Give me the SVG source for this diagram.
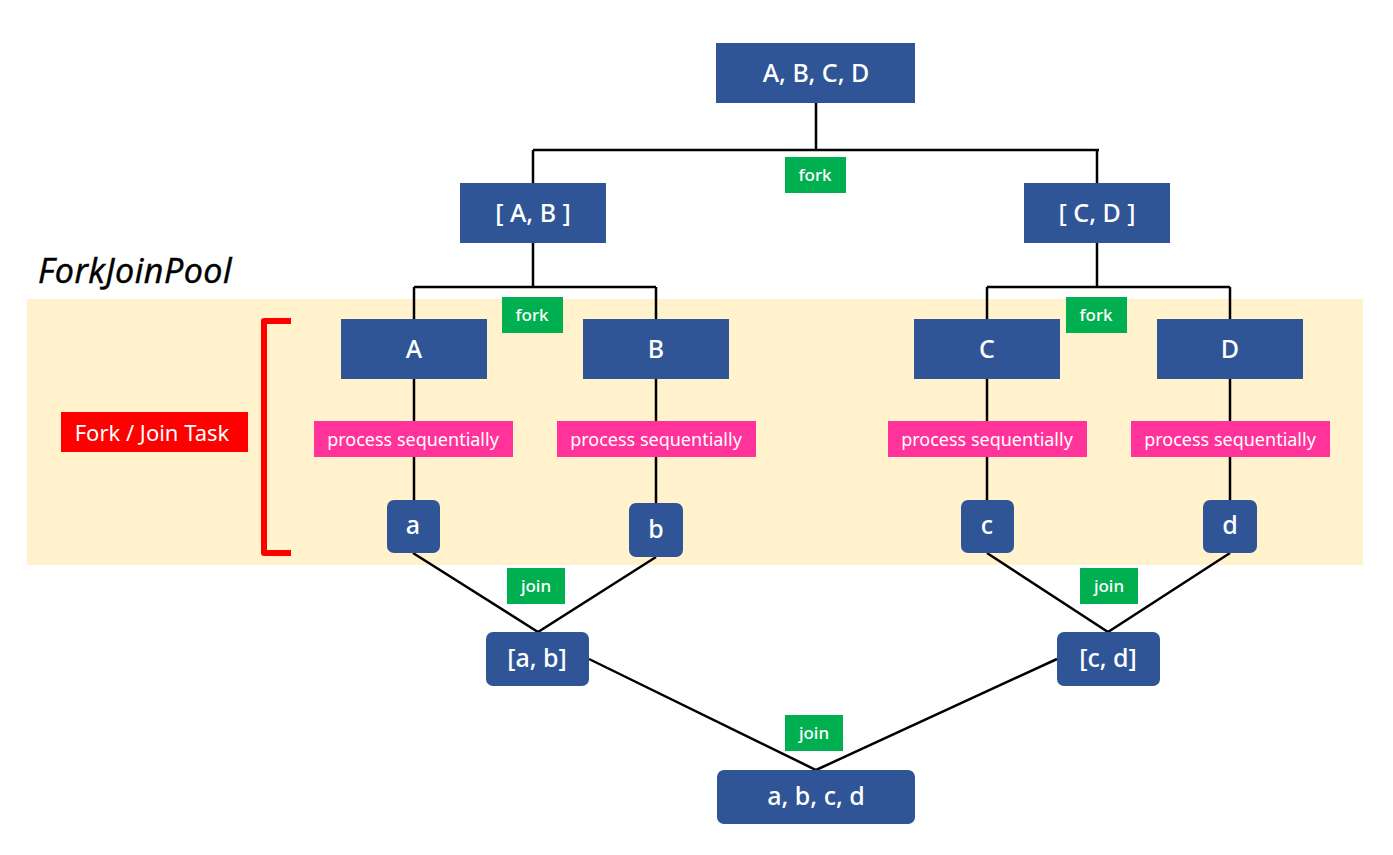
<svg xmlns="http://www.w3.org/2000/svg" width="1393" height="855" viewBox="0 0 1393 855">
<style>
.n{fill:#2F5597}
.t{fill:#fff;font-family:"Noto Sans","Open Sans",sans-serif;text-anchor:middle;dominant-baseline:central}
.big{font-size:25px;font-weight:500}
.g{fill:#00B050}
.p{fill:#FF3399}
.sm{font-size:17px;font-weight:500}
.ps{font-size:18px}
.c{stroke:#000;stroke-width:2.5;fill:none}
</style>
<rect x="0" y="0" width="1393" height="855" fill="#fff"/>
<rect id="pool" x="27" y="299" width="1336" height="266" fill="#FFF2CC"/>
<text x="38" y="283" font-family="'Open Sans','Noto Sans',sans-serif" font-style="italic" font-size="34" fill="#000" stroke="#000" stroke-width="0.5" letter-spacing="0.5">ForkJoinPool</text>
<g id="connectors">
<path class="c" d="M816 103V150M533 150H1099M533 150V183M1097 150V183"/>
<path class="c" d="M533 243V287M414 287H656M414 287V319M656 287V319"/>
<path class="c" d="M1097 243V287M987 287H1230M987 287V319M1230 287V319"/>
<path class="c" d="M414 379V500M656 379V503M987 379V500M1230 379V500"/>
<path class="c" d="M413 553L538 632L656 557"/>
<path class="c" d="M987 553L1108 632L1230 553"/>
<path class="c" d="M589 659L816 770L1057 659"/>
</g>
<g id="bracket"><path d="M291 321H264V553H291" stroke="#FF0000" stroke-width="6" fill="none" stroke-linejoin="round"/></g>
<g id="fjtask"><rect x="61" y="412" width="187" height="40" fill="#FF0000"/><text class="t" x="152" y="432" font-size="22">Fork / Join Task</text></g>
<g id="n-abcd"><rect class="n" x="716" y="43" width="199" height="60"/><text class="t big" x="816" y="72">A, B, C, D</text></g>
<g id="fork1"><rect class="g" x="785" y="157" width="61" height="36"/><text class="t sm" x="815" y="174">fork</text></g>
<g id="n-ab"><rect class="n" x="460" y="183" width="146" height="60"/><text class="t big" x="533" y="212">[ A, B ]</text></g>
<g id="n-cd"><rect class="n" x="1024" y="183" width="146" height="60"/><text class="t big" x="1097" y="212">[ C, D ]</text></g>
<g id="fork2"><rect class="g" x="502" y="297" width="61" height="36"/><text class="t sm" x="532" y="314">fork</text></g>
<g id="fork3"><rect class="g" x="1066" y="297" width="61" height="36"/><text class="t sm" x="1096" y="314">fork</text></g>
<g id="n-A"><rect class="n" x="341" y="319" width="146" height="60"/><text class="t big" x="414" y="348">A</text></g>
<g id="n-B"><rect class="n" x="583" y="319" width="146" height="60"/><text class="t big" x="656" y="348">B</text></g>
<g id="n-C"><rect class="n" x="914" y="319" width="146" height="60"/><text class="t big" x="987" y="348">C</text></g>
<g id="n-D"><rect class="n" x="1157" y="319" width="146" height="60"/><text class="t big" x="1230" y="348">D</text></g>
<g id="ps1"><rect class="p" x="314" y="421" width="199" height="36"/><text class="t ps" x="413" y="439">process sequentially</text></g>
<g id="ps2"><rect class="p" x="557" y="421" width="199" height="36"/><text class="t ps" x="656" y="439">process sequentially</text></g>
<g id="ps3"><rect class="p" x="888" y="421" width="199" height="36"/><text class="t ps" x="987" y="439">process sequentially</text></g>
<g id="ps4"><rect class="p" x="1131" y="421" width="199" height="36"/><text class="t ps" x="1230" y="439">process sequentially</text></g>
<g id="n-a"><rect class="n" x="387" y="500" width="53" height="53" rx="7"/><text class="t big" x="413" y="524">a</text></g>
<g id="n-b"><rect class="n" x="629" y="503" width="54" height="54" rx="7"/><text class="t big" x="656" y="528">b</text></g>
<g id="n-c"><rect class="n" x="961" y="500" width="53" height="53" rx="7"/><text class="t big" x="987" y="524">c</text></g>
<g id="n-d"><rect class="n" x="1203" y="500" width="54" height="53" rx="7"/><text class="t big" x="1230" y="524">d</text></g>
<g id="join1"><rect class="g" x="507" y="568" width="58" height="36"/><text class="t sm" x="536" y="585">join</text></g>
<g id="join2"><rect class="g" x="1080" y="568" width="58" height="36"/><text class="t sm" x="1109" y="585">join</text></g>
<g id="n-ab2"><rect class="n" x="486" y="632" width="103" height="54" rx="7"/><text class="t big" x="537" y="657">[a, b]</text></g>
<g id="n-cd2"><rect class="n" x="1057" y="632" width="103" height="54" rx="7"/><text class="t big" x="1108" y="657">[c, d]</text></g>
<g id="join3"><rect class="g" x="785" y="715" width="58" height="36"/><text class="t sm" x="814" y="732">join</text></g>
<g id="n-final"><rect class="n" x="717" y="770" width="198" height="54" rx="7"/><text class="t big" x="816" y="795">a, b, c, d</text></g>
</svg>
